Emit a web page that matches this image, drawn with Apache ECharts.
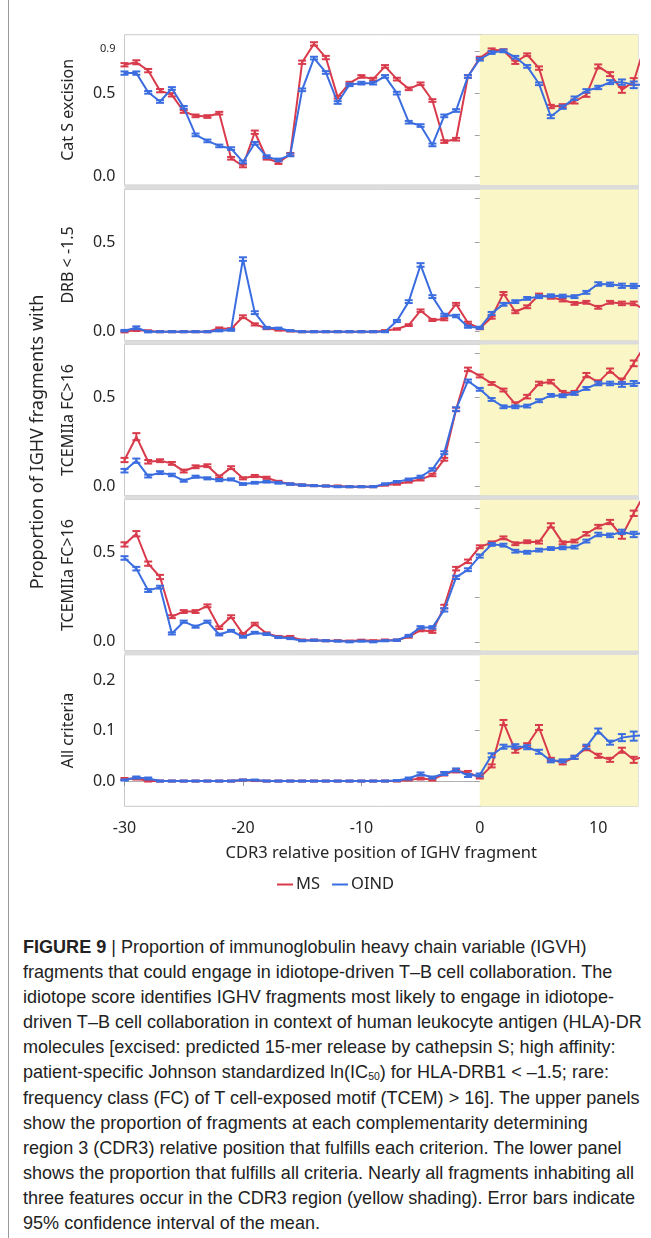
<!DOCTYPE html>
<html><head><meta charset="utf-8">
<script src="https://cdn.jsdelivr.net/npm/echarts@6/dist/echarts.min.js"></script>
<style>
html,body{margin:0;padding:0;background:#fff;}
#chart{position:absolute;left:0;top:0;width:651px;height:915px;}
#frame{position:absolute;left:8px;top:0;width:1px;height:1238px;background:#9a9a9a;}
#cap{position:absolute;left:23px;top:934px;font-family:"Liberation Sans","Arial",sans-serif;font-size:19px;line-height:25.1px;color:#222;white-space:nowrap;transform:scaleX(0.95);transform-origin:0 0;}
#cap sub{font-size:11px;vertical-align:-2px;line-height:0;}
</style></head><body>
<div id="frame"></div>
<div id="chart"></div>
<div id="cap">
<div><b>FIGURE 9</b> | Proportion of immunoglobulin heavy chain variable (IGVH)</div>
<div>fragments that could engage in idiotope-driven T–B cell collaboration. The</div>
<div>idiotope score identifies IGHV fragments most likely to engage in idiotope-</div>
<div>driven T–B cell collaboration in context of human leukocyte antigen (HLA)-DR</div>
<div>molecules [excised: predicted 15-mer release by cathepsin S; high affinity:</div>
<div>patient-specific Johnson standardized ln(IC<sub>50</sub>) for HLA-DRB1 &lt; –1.5; rare:</div>
<div>frequency class (FC) of T cell-exposed motif (TCEM) &gt; 16]. The upper panels</div>
<div>show the proportion of fragments at each complementarity determining</div>
<div>region 3 (CDR3) relative position that fulfills each criterion. The lower panel</div>
<div>shows the proportion that fulfills all criteria. Nearly all fragments inhabiting all</div>
<div>three features occur in the CDR3 region (yellow shading). Error bars indicate</div>
<div>95% confidence interval of the mean.</div>
</div>
<script>
// CDR3 relative positions
const positions = [-30,-29,-28,-27,-26,-25,-24,-23,-22,-21,-20,-19,-18,-17,-16,-15,-14,-13,-12,-11,-10,-9,-8,-7,-6,-5,-4,-3,-2,-1,0,1,2,3,4,5,6,7,8,9,10,11,12,13,14];
const seriesNames = ['MS','OIND'];
const panelTitles = ['Cat S excision','DRB < -1.5','TCEMIIa FC>16','TCEMIIa FC>16','All criteria'];
const xTicks = [-30,-20,-10,0,10];

// Panel 1: Cat S excision
const catMS   = [0.67,0.685,0.635,0.515,0.49,0.39,0.364,0.36,0.38,0.11,0.064,0.266,0.11,0.084,0.134,0.685,0.795,0.713,0.476,0.56,0.6,0.584,0.66,0.584,0.526,0.556,0.456,0.21,0.224,0.6,0.71,0.76,0.755,0.685,0.73,0.65,0.42,0.424,0.45,0.49,0.66,0.614,0.52,0.57,0.8];
const catOIND = [0.62,0.62,0.505,0.45,0.528,0.415,0.25,0.214,0.184,0.168,0.088,0.2,0.12,0.1,0.13,0.52,0.71,0.624,0.444,0.55,0.56,0.56,0.6,0.5,0.326,0.306,0.19,0.364,0.396,0.6,0.703,0.743,0.753,0.715,0.66,0.556,0.36,0.416,0.47,0.514,0.534,0.566,0.566,0.55,0.55];
const catMSErr   = [0.01,0.012,0.01,0.01,0.01,0.008,0.008,0.008,0.008,0.008,0.008,0.01,0.008,0.008,0.008,0.01,0.01,0.01,0.008,0.008,0.008,0.008,0.008,0.008,0.008,0.008,0.008,0.008,0.008,0.008,0.008,0.008,0.008,0.01,0.008,0.01,0.01,0.01,0.012,0.012,0.012,0.012,0.018,0.02,0.02];
const catOINDErr = [0.01,0.01,0.008,0.008,0.008,0.008,0.008,0.008,0.008,0.008,0.008,0.008,0.008,0.008,0.008,0.008,0.008,0.008,0.008,0.008,0.008,0.008,0.008,0.008,0.008,0.008,0.008,0.008,0.008,0.008,0.008,0.008,0.008,0.008,0.008,0.008,0.01,0.01,0.01,0.01,0.01,0.012,0.016,0.02,0.02];

// Panel 2: DRB < -1.5
const drbMS   = [0,0.01,0.004,0,0,0,0,0,0.019,0.015,0.084,0.041,0.019,0.01,0.004,0,0,0,0,0,0,0,0.006,0.015,0.037,0.118,0.066,0.07,0.155,0.05,0.019,0.08,0.215,0.112,0.14,0.206,0.193,0.178,0.159,0.165,0.137,0.165,0.159,0.159,0.12];
const drbOIND = [0.006,0.022,0,0,0,0,0,0,0.006,0.01,0.408,0.107,0.022,0.019,0.006,0,0,0,0,0,0,0,0,0.06,0.169,0.375,0.197,0.094,0.088,0.028,0.022,0.103,0.154,0.169,0.187,0.197,0.202,0.2,0.197,0.221,0.268,0.266,0.258,0.257,0.257];
const drbMSErr   = [0.004,0.006,0.004,0.003,0.003,0.003,0.003,0.003,0.005,0.005,0.008,0.006,0.005,0.004,0.003,0.003,0.003,0.003,0.003,0.003,0.003,0.003,0.003,0.004,0.005,0.007,0.006,0.006,0.007,0.006,0.005,0.007,0.008,0.008,0.008,0.008,0.008,0.008,0.008,0.008,0.008,0.008,0.01,0.01,0.01];
const drbOINDErr = [0.004,0.008,0.004,0.003,0.003,0.003,0.003,0.003,0.004,0.005,0.01,0.008,0.005,0.004,0.003,0.003,0.003,0.003,0.003,0.003,0.003,0.003,0.003,0.006,0.008,0.01,0.008,0.007,0.007,0.006,0.006,0.008,0.008,0.008,0.008,0.008,0.008,0.008,0.008,0.008,0.01,0.01,0.012,0.012,0.012];

// Panel 3: TCEMIIa FC>16
const tc1MS   = [0.15,0.281,0.14,0.146,0.131,0.088,0.112,0.118,0.056,0.107,0.047,0.06,0.05,0.028,0.015,0.009,0.006,0.004,0.004,0,0,0,0.01,0.015,0.028,0.041,0.066,0.154,0.434,0.659,0.622,0.58,0.543,0.464,0.506,0.58,0.59,0.528,0.528,0.627,0.586,0.652,0.594,0.693,0.8];
const tc1OIND = [0.09,0.146,0.06,0.079,0.066,0.034,0.056,0.047,0.037,0.041,0.015,0.022,0.028,0.022,0.015,0.009,0.006,0.004,0,0,0,0,0.015,0.028,0.041,0.056,0.097,0.191,0.436,0.594,0.547,0.49,0.449,0.449,0.453,0.483,0.513,0.511,0.524,0.552,0.58,0.58,0.575,0.58,0.586];
const tc1MSErr   = [0.012,0.02,0.01,0.008,0.008,0.008,0.008,0.008,0.007,0.008,0.006,0.006,0.006,0.005,0.004,0.004,0.003,0.003,0.003,0.003,0.003,0.003,0.004,0.004,0.005,0.006,0.007,0.008,0.01,0.01,0.008,0.008,0.008,0.01,0.01,0.01,0.01,0.01,0.01,0.012,0.012,0.012,0.014,0.016,0.018];
const tc1OINDErr = [0.01,0.012,0.008,0.008,0.007,0.006,0.006,0.006,0.006,0.006,0.005,0.005,0.005,0.005,0.004,0.004,0.003,0.003,0.003,0.003,0.003,0.003,0.004,0.004,0.005,0.006,0.007,0.008,0.01,0.008,0.008,0.008,0.008,0.008,0.008,0.008,0.008,0.008,0.008,0.008,0.01,0.01,0.014,0.014,0.014];

// Panel 4: TCEMIIa FC>16
const tc2MS   = [0.547,0.607,0.439,0.364,0.141,0.17,0.17,0.202,0.079,0.141,0.043,0.1,0.047,0.028,0.028,0.009,0.009,0.006,0.006,0.004,0.009,0.006,0.009,0.009,0.028,0.066,0.057,0.198,0.411,0.452,0.534,0.556,0.584,0.551,0.562,0.56,0.654,0.556,0.566,0.607,0.647,0.673,0.594,0.722,0.84];
const tc2OIND = [0.471,0.411,0.288,0.307,0.047,0.113,0.085,0.113,0.041,0.062,0.028,0.051,0.043,0.025,0.019,0.006,0.009,0.006,0.004,0,0.004,0,0.006,0.009,0.034,0.081,0.081,0.179,0.362,0.405,0.481,0.547,0.543,0.509,0.503,0.515,0.524,0.528,0.532,0.566,0.603,0.598,0.618,0.603,0.613];
const tc2MSErr   = [0.012,0.015,0.012,0.012,0.008,0.008,0.008,0.008,0.007,0.008,0.006,0.007,0.006,0.005,0.005,0.004,0.004,0.003,0.003,0.003,0.003,0.003,0.004,0.004,0.005,0.007,0.007,0.01,0.01,0.01,0.008,0.008,0.008,0.008,0.008,0.008,0.012,0.008,0.008,0.01,0.01,0.012,0.015,0.015,0.015];
const tc2OINDErr = [0.01,0.01,0.008,0.008,0.006,0.006,0.006,0.006,0.005,0.005,0.005,0.005,0.005,0.004,0.004,0.003,0.003,0.003,0.003,0.003,0.003,0.003,0.003,0.004,0.005,0.007,0.007,0.009,0.009,0.008,0.008,0.008,0.008,0.008,0.008,0.008,0.008,0.008,0.008,0.008,0.01,0.01,0.012,0.015,0.015];

// Panel 5: All criteria
const allMS   = [0.004,0.005,0,0,0,0,0,0,0,0,0.002,0.001,0,0,0,0,0,0,0,0,0,0,0,0,0.002,0.005,0.003,0.014,0.02,0.017,0.007,0.03,0.116,0.06,0.071,0.106,0.043,0.036,0.047,0.065,0.05,0.042,0.061,0.042,0.05];
const allOIND = [0.002,0.007,0.005,0,0,0,0,0,0,0,0.002,0.002,0,0,0,0,0,0,0,0,0,0,0,0.001,0.005,0.014,0.007,0.015,0.022,0.011,0.012,0.051,0.068,0.069,0.067,0.058,0.04,0.04,0.047,0.068,0.099,0.076,0.086,0.089,0.091];
const allMSErr   = [0.002,0.002,0.001,0.001,0.001,0.001,0.001,0.001,0.001,0.001,0.001,0.001,0.001,0.001,0.001,0.001,0.001,0.001,0.001,0.001,0.001,0.001,0.001,0.001,0.001,0.002,0.002,0.003,0.003,0.003,0.002,0.003,0.005,0.004,0.004,0.005,0.003,0.003,0.003,0.004,0.004,0.004,0.005,0.006,0.006];
const allOINDErr = [0.001,0.002,0.002,0.001,0.001,0.001,0.001,0.001,0.001,0.001,0.001,0.001,0.001,0.001,0.001,0.001,0.001,0.001,0.001,0.001,0.001,0.001,0.001,0.001,0.002,0.003,0.002,0.003,0.003,0.003,0.003,0.004,0.004,0.004,0.004,0.004,0.003,0.003,0.003,0.004,0.005,0.004,0.007,0.009,0.009];

// y-axis tick values and labels per panel
const yTickVals  = [[0,0.25,0.5,0.75],[0,0.25,0.5,0.75],[0,0.25,0.5,0.75],[0,0.25,0.5,0.75],[0,0.1,0.2]];
const yLabelVals = [[0,0.5,0.75],[0,0.5],[0,0.5],[0,0.5],[0,0.1,0.2]];
const yLabelText = [['0.0','0.5','0.9'],['0.0','0.5'],['0.0','0.5'],['0.0','0.5'],['0.0','0.1','0.2']];
const yRanges = [[-0.05,0.85],[-0.05,0.80],[-0.05,0.80],[-0.05,0.80],[-0.05,0.25]];

const panelData = [
  [catMS,catOIND,catMSErr,catOINDErr],
  [drbMS,drbOIND,drbMSErr,drbOINDErr],
  [tc1MS,tc1OIND,tc1MSErr,tc1OINDErr],
  [tc2MS,tc2OIND,tc2MSErr,tc2OINDErr],
  [allMS,allOIND,allMSErr,allOINDErr]
];

const RED = '#d83b4c', BLUE = '#3b6de0';
const X_MIN = -30, X_MAX = 13.36, CDR3_START = 0;
const GRID_LEFT = 124.5, GRID_W = 513.5;
const gridTops = [34.7, 189.3, 344.3, 499.4, 654.8];
const gridHs = [150.3, 151.3, 151.3, 151.3, 151.5];
const FONT = '"Noto Sans", "Open Sans", sans-serif';

const chart = echarts.init(document.getElementById('chart'), null, {renderer:'canvas'});

const grids = [], xAxes = [], yAxes = [], series = [], graphics = [];
for (let g = 0; g < 5; g++) {
  grids.push({left: GRID_LEFT, top: gridTops[g], width: GRID_W, height: gridHs[g], show: true, borderColor: '#c9c9c9', borderWidth: 1, backgroundColor: 'transparent'});
  const isLast = g === 4;
  xAxes.push({
    gridIndex: g, type: 'value', min: X_MIN, max: X_MAX, interval: 10,
    show: true,
    axisLine: {show: isLast, lineStyle: {color: '#b0b0b0'}},
    axisTick: {show: isLast, length: 5, lineStyle: {color: '#999'}, customValues: xTicks},
    axisLabel: {show: isLast, customValues: xTicks, margin: 14, fontSize: 16, color: '#262626', fontFamily: FONT},
    splitLine: {show: false},
    name: isLast ? 'CDR3 relative position of IGHV fragment' : '',
    nameLocation: 'middle', nameGap: 38,
    nameTextStyle: {fontSize: 16.5, color: '#262626', fontFamily: FONT}
  });
  const labs = yLabelText[g], lv = yLabelVals[g];
  yAxes.push({
    gridIndex: g, type: 'value', min: yRanges[g][0], max: yRanges[g][1],
    axisLine: {show: true, lineStyle: {color: '#a8a8a8'}},
    axisTick: {show: true, length: 5, lineStyle: {color: '#a0a0a0'}, customValues: yTickVals[g]},
    axisLabel: {
      customValues: lv, margin: 9, color: '#262626', fontFamily: FONT, fontSize: 16,
      formatter: function (v) {
        let i = lv.findIndex(t => Math.abs(t - v) < 1e-9);
        if (i < 0) return '';
        if (g === 0 && i === 2) return '{s|' + labs[i] + '}';
        return labs[i];
      },
      rich: {s: {fontSize: 11, color: '#262626', fontFamily: FONT, padding: [0, 0, 6, 0]}}
    },
    splitLine: {show: false},
    name: panelTitles[g], nameLocation: 'middle', nameGap: 48,
    nameTextStyle: {fontSize: 16, color: '#262626', fontFamily: FONT}
  });
  const [ms, oind, msE, oindE] = panelData[g];
  const vals = [ms, oind], errs = [msE, oindE], cols = [RED, BLUE];
  for (let s = 0; s < 2; s++) {
    const line = {
      name: seriesNames[s], type: 'line', xAxisIndex: g, yAxisIndex: g,
      data: positions.map((x, i) => [x, vals[s][i]]),
      symbol: 'none', clip: true, z: 3 + s,
      lineStyle: {color: cols[s], width: 2}, itemStyle: {color: cols[s]},
      animation: false
    };
    if (s === 0) {
      line.markArea = {silent: true, itemStyle: {color: '#faf6c5'}, data: [[{xAxis: CDR3_START}, {xAxis: X_MAX}]]};
    }
    series.push(line);
    const col = cols[s];
    series.push({
      type: 'custom', xAxisIndex: g, yAxisIndex: g, z: 3 + s, animation: false, silent: true,
      data: positions.map((x, i) => [x, vals[s][i] - errs[s][i], vals[s][i] + errs[s][i]]).filter(d => d[0] <= X_MAX),
      renderItem: function (params, api) {
        const x = api.value(0);
        const lo = api.coord([x, api.value(1)]);
        const hi = api.coord([x, api.value(2)]);
        const hw = 4;
        const st = {stroke: col, lineWidth: 2};
        return {type: 'group', children: [
          {type: 'line', shape: {x1: lo[0], y1: lo[1], x2: hi[0], y2: hi[1]}, style: st},
          {type: 'line', shape: {x1: lo[0] - hw, y1: lo[1], x2: lo[0] + hw, y2: lo[1]}, style: st},
          {type: 'line', shape: {x1: hi[0] - hw, y1: hi[1], x2: hi[0] + hw, y2: hi[1]}, style: st}
        ]};
      }
    });
  }
  if (g < 4) {
    const yb = gridTops[g] + gridHs[g];
    graphics.push({type: 'rect', z: 100, silent: true,
      shape: {x: GRID_LEFT, y: yb, width: GRID_W + 1, height: gridTops[g + 1] - yb},
      style: {fill: '#dcdcdc'}});
  }
}
graphics.push({
  type: 'text', z: 100, x: 38, y: 442, rotation: Math.PI / 2,
  style: {text: 'Proportion of IGHV fragments with', fontSize: 18, fontFamily: FONT, fill: '#262626', align: 'center', verticalAlign: 'middle'}
});

chart.setOption({
  animation: false,
  grid: grids, xAxis: xAxes, yAxis: yAxes, series: series, graphic: graphics,
  legend: {
    data: seriesNames, left: 272, top: 871, icon: 'path://M0,0 L16,0 L16,2 L0,2 Z',
    itemWidth: 16, itemHeight: 2, itemGap: 12,
    textStyle: {fontSize: 16.5, color: '#262626', fontFamily: FONT, padding: [0, 0, 0, -2]}
  }
});
</script>
</body></html>
